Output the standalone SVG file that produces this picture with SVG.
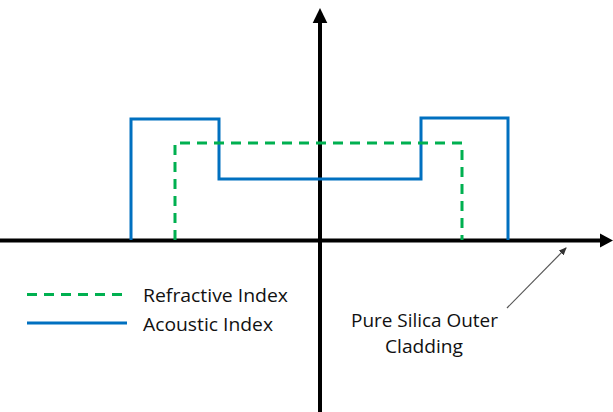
<svg xmlns="http://www.w3.org/2000/svg" width="613" height="412" viewBox="0 0 613 412">
<style>
.axis{stroke:#000;stroke-width:4;fill:none}
.blue{stroke:#0070C0;stroke-width:3;fill:none}
.green{stroke:#00B050;stroke-width:3;fill:none;stroke-dasharray:10 7}
.lbl{font-family:"Open Sans","Liberation Sans",sans-serif;font-size:19px;fill:#111}
</style>
<defs>
<marker id="ah" markerWidth="8" markerHeight="8" refX="7" refY="4" orient="auto" markerUnits="userSpaceOnUse">
<path d="M0,0.5 L8,4 L0,7.5 Z" fill="#333"/>
</marker>
</defs>
<rect width="613" height="412" fill="#fff"/>
<g id="axes">
<line class="axis" x1="0" y1="240.5" x2="602" y2="240.5"/>
<path d="M613,240.5 L600,233.5 L600,247.5 Z" fill="#000"/>
<line class="axis" x1="320" y1="412" x2="320" y2="20"/>
<path d="M320,8 L312.7,23 L327.3,23 Z" fill="#000"/>
</g>
<g id="acoustic-index">
<path class="blue" d="M131,240 V119 H219 V179 H421 V118 H508 V240"/>
</g>
<g id="refractive-index">
<path class="green" d="M175,240 V143 H462 V240"/>
</g>
<g id="legend">
<line class="green" x1="27" y1="294.5" x2="127" y2="294.5"/>
<line class="blue" x1="27" y1="323" x2="127" y2="323"/>
<text class="lbl" x="143" y="302" textLength="145" lengthAdjust="spacingAndGlyphs">Refractive Index</text>
<text class="lbl" x="143" y="331" textLength="130" lengthAdjust="spacingAndGlyphs">Acoustic Index</text>
</g>
<g id="connectors">
<line x1="507" y1="308" x2="566" y2="248" stroke="#555" stroke-width="1.2" marker-end="url(#ah)"/>
</g>
<g id="cladding-label">
<text class="lbl" x="424.5" y="327" text-anchor="middle" textLength="147" lengthAdjust="spacingAndGlyphs">Pure Silica Outer</text>
<text class="lbl" x="424" y="353" text-anchor="middle" textLength="78" lengthAdjust="spacingAndGlyphs">Cladding</text>
</g>
</svg>
